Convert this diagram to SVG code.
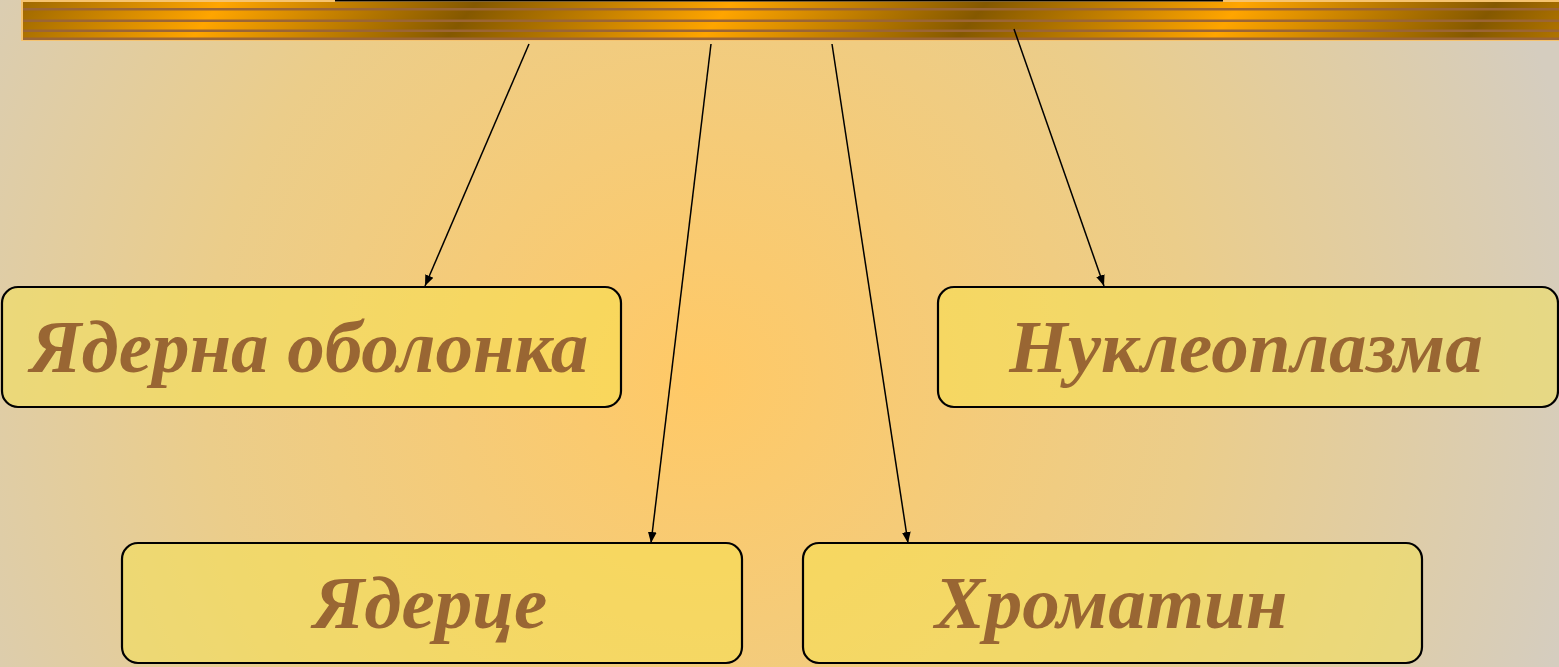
<svg xmlns="http://www.w3.org/2000/svg" width="1559" height="667" viewBox="0 0 1559 667">
  <defs>
    <radialGradient id="bg" gradientUnits="userSpaceOnUse" cx="700" cy="380" r="900">
      <stop offset="0" stop-color="#FFC966"/>
      <stop offset="0.55" stop-color="#EBCD8A"/>
      <stop offset="1" stop-color="#D5CDBF"/>
    </radialGradient>
    <linearGradient id="bar" gradientUnits="userSpaceOnUse" x1="207" y1="20" x2="360" y2="145" spreadMethod="reflect">
      <stop offset="0" stop-color="#FFA500"/>
      <stop offset="1" stop-color="#845800"/>
    </linearGradient>
    <marker id="arrow" viewBox="0 0 10 10" refX="10" refY="5" markerWidth="11" markerHeight="11" markerUnits="userSpaceOnUse" orient="auto">
      <path d="M0,1 L10,5 L0,9 Z" fill="#000"/>
    </marker>
    <style>
      .box { fill: #F6E54A; fill-opacity: 0.47; stroke: #000; stroke-width: 2.2; }
      .lbl { font-family: "Liberation Serif", "Times New Roman", serif; font-weight: bold; font-style: italic; font-size: 75px; fill: #996633; text-anchor: middle; }
      .conn { stroke: #000; stroke-width: 1.5; fill: none; marker-end: url(#arrow); }
      .band { fill: #9B6535; }
    </style>
  </defs>

  <rect x="0" y="0" width="1559" height="667" fill="url(#bg)"/>

  <g id="header-bar">
    <rect x="21" y="0" width="1538" height="41" fill="#F6C36E"/>
    <rect x="335" y="0" width="888" height="1.5" fill="#000"/>
    <rect x="23" y="2" width="1536" height="38" fill="url(#bar)"/>
    <rect class="band" x="23" y="8" width="1536" height="2.5"/>
    <rect class="band" x="23" y="19.5" width="1536" height="2.5"/>
    <rect class="band" x="23" y="29.5" width="1536" height="2.5"/>
    <rect class="band" x="23" y="37.5" width="1536" height="2.5"/>
  </g>

  <g id="connectors">
    <line class="conn" x1="529" y1="44" x2="425" y2="286"/>
    <line class="conn" x1="711" y1="44" x2="651" y2="543"/>
    <line class="conn" x1="832" y1="44" x2="908" y2="543"/>
    <line class="conn" x1="1014" y1="29" x2="1104" y2="286"/>
  </g>

  <g id="node-membrane">
    <rect class="box" x="2" y="287" width="619" height="120" rx="16"/>
    <text class="lbl" x="309" y="372">Ядерна оболонка</text>
  </g>
  <g id="node-nucleoplasm">
    <rect class="box" x="938" y="287" width="620" height="120" rx="16"/>
    <text class="lbl" x="1246" y="372">Нуклеоплазма</text>
  </g>
  <g id="node-nucleolus">
    <rect class="box" x="122" y="543" width="620" height="120" rx="16"/>
    <text class="lbl" x="430" y="628">Ядерце</text>
  </g>
  <g id="node-chromatin">
    <rect class="box" x="803" y="543" width="619" height="120" rx="16"/>
    <text class="lbl" x="1111" y="628">Хроматин</text>
  </g>
</svg>
